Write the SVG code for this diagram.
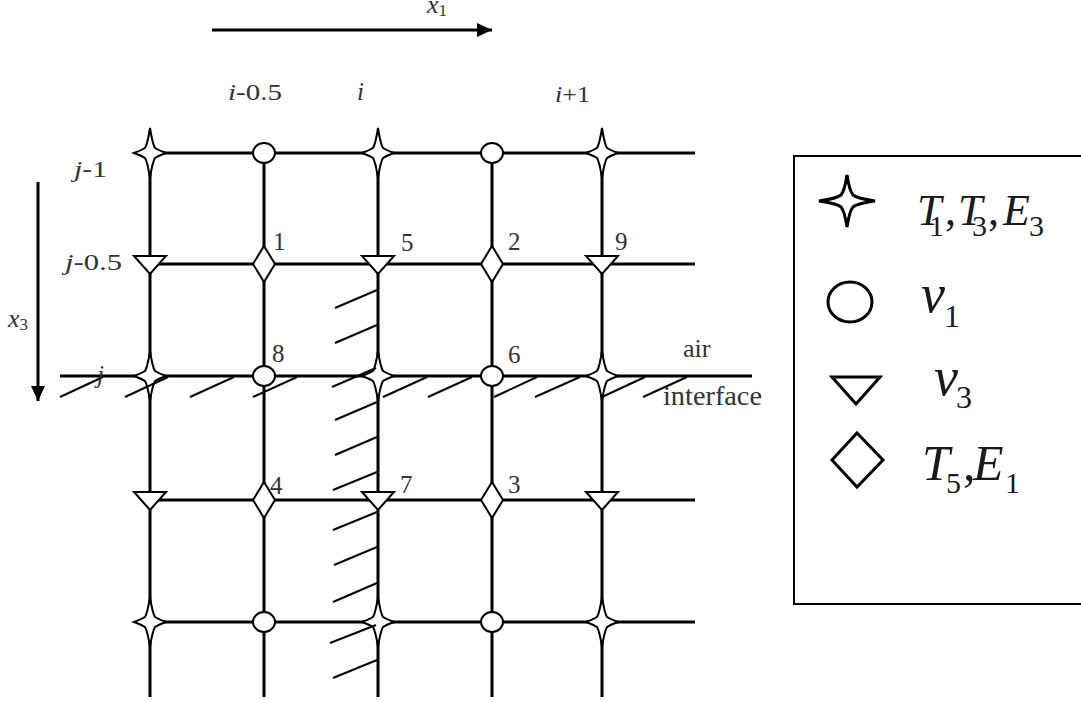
<svg xmlns="http://www.w3.org/2000/svg" width="1081" height="704" viewBox="0 0 1081 704">
<style>
.grid{stroke:#000;stroke-width:3;fill:none}
.hatch{stroke:#000;stroke-width:2;fill:none}
.sym{stroke:#000;stroke-width:2;fill:#fff}
.lsym{stroke:#000;stroke-width:3;fill:#fff}
.lbl{font-family:"Liberation Serif",serif;font-size:23px;fill:#333}
.it{font-style:italic}
.leg{font-family:"Liberation Serif",serif;fill:#1a1a1a}
</style>
<defs>
<marker id="ah" markerUnits="userSpaceOnUse" markerWidth="16" markerHeight="14" refX="15" refY="7" orient="auto">
<path d="M0,0 L15,7 L0,14 Z" fill="#000"/>
</marker>
<path id="star" d="M0,-25 Q2.5,-9 5,-5 Q9,-2.5 16,0 Q9,2.5 5,5 Q2.5,9 0,25 Q-2.5,9 -5,5 Q-9,2.5 -16,0 Q-9,-2.5 -5,-5 Q-2.5,-9 0,-25Z"/>
<ellipse id="circ" cx="0" cy="0" rx="11" ry="10"/>
<path id="tri" d="M-16,-8 L16,-8 L0,10 Z"/>
<path id="dia" d="M0,-18 L11,0 L0,18 L-11,0 Z"/>
</defs>
<rect width="1081" height="704" fill="#fff"/>

<g id="connectors">
<line class="grid" x1="212" y1="30" x2="492" y2="30" marker-end="url(#ah)"/>
<line class="grid" x1="38" y1="182" x2="38" y2="401" marker-end="url(#ah)"/>
<line class="grid" x1="150" y1="153" x2="695" y2="153"/>
<line class="grid" x1="150" y1="264" x2="695" y2="264"/>
<line class="grid" x1="60" y1="376" x2="752" y2="376"/>
<line class="grid" x1="150" y1="500" x2="695" y2="500"/>
<line class="grid" x1="150" y1="622" x2="695" y2="622"/>
<line class="grid" x1="150" y1="153" x2="150" y2="697"/>
<line class="grid" x1="264" y1="153" x2="264" y2="697"/>
<line class="grid" x1="378" y1="153" x2="378" y2="697"/>
<line class="grid" x1="492" y1="153" x2="492" y2="697"/>
<line class="grid" x1="602" y1="153" x2="602" y2="697"/>
</g>

<g id="nodes">
<g id="n-star-1"><use href="#star" class="sym" x="150" y="153"/></g>
<g id="n-circ-1"><use href="#circ" class="sym" x="264" y="153"/></g>
<g id="n-star-2"><use href="#star" class="sym" x="378" y="153"/></g>
<g id="n-circ-2"><use href="#circ" class="sym" x="492" y="153"/></g>
<g id="n-star-3"><use href="#star" class="sym" x="602" y="153"/></g>

<g id="n-tri-1"><use href="#tri" class="sym" x="150" y="264"/></g>
<g id="n-dia-1"><use href="#dia" class="sym" x="264" y="264"/></g>
<g id="n-tri-5"><use href="#tri" class="sym" x="378" y="264"/></g>
<g id="n-dia-2"><use href="#dia" class="sym" x="492" y="264"/></g>
<g id="n-tri-9"><use href="#tri" class="sym" x="602" y="264"/></g>

<g id="n-star-4"><use href="#star" class="sym" x="150" y="376"/></g>
<g id="n-circ-8"><use href="#circ" class="sym" x="264" y="376"/></g>
<g id="n-star-5"><use href="#star" class="sym" x="378" y="376"/></g>
<g id="n-circ-6"><use href="#circ" class="sym" x="492" y="376"/></g>
<g id="n-star-6"><use href="#star" class="sym" x="602" y="376"/></g>

<g id="n-tri-2"><use href="#tri" class="sym" x="150" y="500"/></g>
<g id="n-dia-4"><use href="#dia" class="sym" x="264" y="500"/></g>
<g id="n-tri-7"><use href="#tri" class="sym" x="378" y="500"/></g>
<g id="n-dia-3"><use href="#dia" class="sym" x="492" y="500"/></g>
<g id="n-tri-3"><use href="#tri" class="sym" x="602" y="500"/></g>

<g id="n-star-7"><use href="#star" class="sym" x="150" y="622"/></g>
<g id="n-circ-3"><use href="#circ" class="sym" x="264" y="622"/></g>
<g id="n-star-8"><use href="#star" class="sym" x="378" y="622"/></g>
<g id="n-circ-4"><use href="#circ" class="sym" x="492" y="622"/></g>
<g id="n-star-9"><use href="#star" class="sym" x="602" y="622"/></g>
</g>

<g id="hatching" class="hatch">
<line x1="60" y1="397" x2="103" y2="377"/>
<line x1="125" y1="397" x2="168" y2="377"/>
<line x1="190" y1="397" x2="234" y2="377"/>
<line x1="253" y1="397" x2="297" y2="377"/>
<line x1="383" y1="397" x2="427" y2="377"/>
<line x1="428" y1="397" x2="472" y2="377"/>
<line x1="494" y1="397" x2="537" y2="377"/>
<line x1="535" y1="397" x2="580" y2="377"/>
<line x1="602" y1="397" x2="645" y2="377"/>
<line x1="643" y1="397" x2="687" y2="377"/>
<line x1="335" y1="308" x2="377" y2="290"/>
<line x1="335" y1="343" x2="377" y2="325"/>
<line x1="332" y1="387" x2="376" y2="368"/>
<line x1="335" y1="420" x2="377" y2="402"/>
<line x1="335" y1="455" x2="377" y2="437"/>
<line x1="333" y1="490" x2="377" y2="472"/>
<line x1="333" y1="530" x2="377" y2="512"/>
<line x1="334" y1="565" x2="377" y2="547"/>
<line x1="333" y1="602" x2="377" y2="583"/>
<line x1="330" y1="643" x2="376" y2="625"/>
<line x1="333" y1="678" x2="377" y2="660"/>
</g>

<g id="labels" class="lbl">
<text x="427" y="13"><tspan class="it" font-size="26">x</tspan><tspan font-size="17" dy="3">1</tspan></text>
<text x="8" y="327"><tspan class="it" font-size="26">x</tspan><tspan font-size="17" dy="3">3</tspan></text>
<text x="228" y="100" textLength="54" lengthAdjust="spacingAndGlyphs"><tspan class="it">i</tspan>-0.5</text>
<text x="357" y="100" class="it" font-size="25">i</text>
<text x="555" y="102" textLength="35" lengthAdjust="spacingAndGlyphs"><tspan class="it">i</tspan>+1</text>
<text x="74" y="177" textLength="33" lengthAdjust="spacingAndGlyphs"><tspan class="it">j</tspan>-1</text>
<text x="65" y="270" textLength="57" lengthAdjust="spacingAndGlyphs"><tspan class="it">j</tspan>-0.5</text>
<text x="97" y="383" class="it" font-size="25">j</text>
<g font-size="25">
<text x="273" y="250">1</text>
<text x="401" y="251">5</text>
<text x="508" y="250">2</text>
<text x="615" y="250">9</text>
<text x="272" y="362">8</text>
<text x="508" y="363">6</text>
<text x="270" y="494">4</text>
<text x="400" y="493">7</text>
<text x="508" y="493">3</text>
</g>
<text x="683" y="357" font-size="26">air</text>
<text x="663" y="405" font-size="27" textLength="99" lengthAdjust="spacingAndGlyphs">interface</text>
</g>

<g id="legend">
<rect x="794" y="156" width="300" height="448" fill="none" stroke="#000" stroke-width="2"/>
<g id="leg-star">
<path class="lsym" stroke-width="2.5" transform="translate(847,201)" d="M0,-26 Q2.5,-10 6,-6 Q10,-2.5 28,0 Q10,2.5 6,6 Q2.5,10 0,26 Q-2.5,10 -6,6 Q-10,2.5 -28,0 Q-10,-2.5 -6,-6 Q-2.5,-10 0,-26Z"/>
<text class="leg"><tspan x="917" y="225" font-size="44" font-style="italic">T</tspan><tspan x="929" y="236" font-size="30">1</tspan><tspan x="945" y="225" font-size="44">,</tspan><tspan x="958" y="225" font-size="44" font-style="italic">T</tspan><tspan x="972" y="236" font-size="30">3</tspan><tspan x="988" y="225" font-size="44">,</tspan><tspan x="1003" y="225" font-size="44" font-style="italic">E</tspan><tspan x="1029" y="236" font-size="30">3</tspan></text>
</g>
<g id="leg-circ">
<ellipse class="lsym" cx="850" cy="302" rx="22" ry="20"/>
<text class="leg"><tspan x="921" y="312" font-size="54" font-style="italic">v</tspan><tspan x="944" y="327" font-size="32">1</tspan></text>
</g>
<g id="leg-tri">
<path class="lsym" stroke-width="2.5" d="M832,377 L880,377 L856,404 Z"/>
<text class="leg"><tspan x="934" y="395" font-size="54" font-style="italic">v</tspan><tspan x="956" y="408" font-size="32">3</tspan></text>
</g>
<g id="leg-dia">
<path class="lsym" d="M857,433 L883,460 L857,487 L832,460 Z"/>
<text class="leg"><tspan x="922" y="480" font-size="50" font-style="italic">T</tspan><tspan x="946" y="493" font-size="30">5</tspan><tspan x="963" y="480" font-size="50">,</tspan><tspan x="973" y="480" font-size="50" font-style="italic">E</tspan><tspan x="1005" y="493" font-size="30">1</tspan></text>
</g>
</g>
</svg>
